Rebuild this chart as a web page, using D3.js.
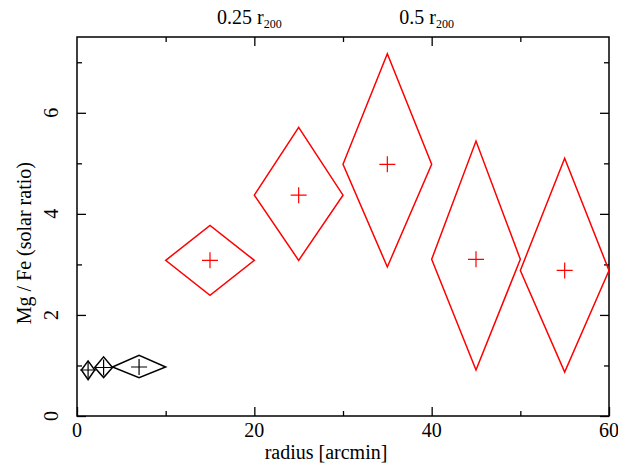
<!DOCTYPE html>
<html>
<head>
<meta charset="utf-8">
<script src="https://cdn.jsdelivr.net/npm/d3@7"></script>
<style>
  body { margin: 0; background: #fff; }
  svg text { font-family: "Liberation Serif", "Times New Roman", serif; }
</style>
</head>
<body>
<div id="chart"></div>
<script>
// radial bins (arcmin) and Mg/Fe ratio with error ranges
const radius     = [1.25, 3, 7, 15, 25, 35, 45, 55];
const radiusErr  = [0.75, 1, 3, 5, 5, 5, 5, 5];
const ratio      = [0.91, 0.96, 0.97, 3.08, 4.37, 4.98, 3.10, 2.88];
const ratioLow   = [0.72, 0.76, 0.76, 2.39, 3.08, 2.95, 0.91, 0.87];
const ratioHigh  = [1.09, 1.17, 1.20, 3.77, 5.71, 7.17, 5.44, 5.10];
const dataset    = ["inner", "inner", "inner", "outer", "outer", "outer", "outer", "outer"];

const xMajor = [0, 20, 40, 60];
const xMinor = [10, 30, 50];
const yMajor = [0, 2, 4, 6];
const yMinor = [1, 3, 5, 7];
const topTicks = [20, 40];
const topLabels = ["0.25 r", "0.5 r"];

const width = 618, height = 465;
const margin = {top: 37, right: 9, bottom: 49, left: 77};
const fontSize = 20;

let x = d3.scaleLinear().domain([0, 60]).range([margin.left, width - margin.right]);
let y = d3.scaleLinear().domain([0, 7.5]).range([height - margin.bottom, margin.top]);

let color = d3.scaleOrdinal().domain(["inner", "outer"]).range(["#000000", "#ff0000"]);

let svg = d3.select("#chart")
    .append("svg")
    .attr("width", width)
    .attr("height", height)
    .attr("viewBox", [0, 0, width, height]);

let data = radius.map((r, i) => ({
    r: r, dr: radiusErr[i], v: ratio[i], lo: ratioLow[i], hi: ratioHigh[i], set: dataset[i]
}));

// ticks, all pointing inwards
function ticks(axis, scale, values, size) {
    return g => g.call(axis(scale).tickValues(values).tickSize(-size).tickFormat(""))
        .call(g => g.select(".domain").remove())
        .call(g => g.selectAll("line").attr("stroke-width", 1.3));
}
svg.append("g").attr("transform", `translate(0,${y(0)})`).call(ticks(d3.axisBottom, x, xMajor, 9));
svg.append("g").attr("transform", `translate(0,${y(0)})`).call(ticks(d3.axisBottom, x, xMinor, 5));
svg.append("g").attr("transform", `translate(0,${y(7.5)})`).call(ticks(d3.axisTop, x, topTicks, 9));
svg.append("g").attr("transform", `translate(0,${y(7.5)})`).call(ticks(d3.axisTop, x, xMinor, 5));
svg.append("g").attr("transform", `translate(${x(0)},0)`).call(ticks(d3.axisLeft, y, yMajor, 9));
svg.append("g").attr("transform", `translate(${x(0)},0)`).call(ticks(d3.axisLeft, y, yMinor, 5));
svg.append("g").attr("transform", `translate(${x(60)},0)`).call(ticks(d3.axisRight, y, yMajor, 9));
svg.append("g").attr("transform", `translate(${x(60)},0)`).call(ticks(d3.axisRight, y, yMinor, 5));

// frame
svg.append("rect")
    .attr("x", x(0)).attr("y", y(7.5))
    .attr("width", x(60) - x(0)).attr("height", y(0) - y(7.5))
    .attr("fill", "none").attr("stroke", "#000").attr("stroke-width", 1.5);

// tick labels
svg.append("g")
    .attr("font-size", fontSize).attr("text-anchor", "middle")
    .selectAll("text").data(xMajor).join("text")
    .attr("x", d => x(d)).attr("y", y(0) + 21)
    .text(d => d);

svg.append("g")
    .attr("font-size", fontSize).attr("text-anchor", "middle")
    .selectAll("text").data(yMajor).join("text")
    .attr("transform", d => `translate(${x(0) - 19},${y(d)}) rotate(-90)`)
    .text(d => d);

let topText = svg.append("g")
    .attr("font-size", fontSize).attr("text-anchor", "middle")
    .selectAll("text").data(topTicks).join("text")
    .attr("x", d => x(d) - 5).attr("y", y(7.5) - 13);
topText.append("tspan").text((d, i) => topLabels[i]);
topText.append("tspan").attr("font-size", 12).attr("dy", 4).text("200");

// axis titles
svg.append("text")
    .attr("font-size", fontSize).attr("text-anchor", "middle")
    .attr("x", 326).attr("y", height - 6)
    .text("radius [arcmin]");

svg.append("text")
    .attr("font-size", fontSize).attr("text-anchor", "middle")
    .attr("transform", `translate(31,${y(3.42)}) rotate(-90)`)
    .text("Mg / Fe (solar ratio)");

// diamonds: x error as horizontal half-width, y range as vertical extent
let marks = svg.append("g").selectAll("g").data(data).join("g");

marks.append("path")
    .attr("fill", "none")
    .attr("stroke", d => color(d.set))
    .attr("stroke-width", 1.5)
    .attr("stroke-linejoin", "miter")
    .attr("d", d => `M${x(d.r - d.dr)},${y(d.v)}L${x(d.r)},${y(d.hi)}L${x(d.r + d.dr)},${y(d.v)}L${x(d.r)},${y(d.lo)}Z`);

marks.append("path")
    .attr("fill", "none")
    .attr("stroke", d => color(d.set))
    .attr("stroke-width", 1.2)
    .attr("d", d => `M${x(d.r) - 8},${y(d.v)}h16M${x(d.r)},${y(d.v) - 8}v16`);
</script>
</body>
</html>
